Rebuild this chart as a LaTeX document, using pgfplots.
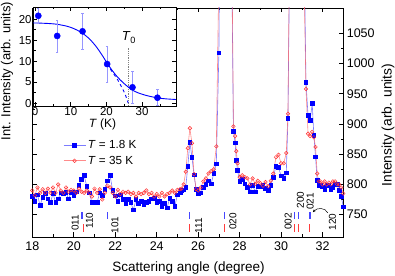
\documentclass[border=0pt]{standalone}
\usepackage{pgfplots}
\pgfplotsset{compat=1.18}
\usepackage{pgfplotstable}
\usepackage{fontspec}
\setmainfont{Liberation Sans}
\usetikzlibrary{arrows.meta}
\definecolor{bmark}{RGB}{0,0,255}
\definecolor{bline}{RGB}{80,80,255}
\definecolor{rmark}{RGB}{255,50,50}
\definecolor{rline}{RGB}{255,100,100}
\definecolor{ebar}{RGB}{150,150,255}
\definecolor{btick}{RGB}{70,70,255}
\definecolor{rtick}{RGB}{255,60,60}
\pgfplotstableread{
x B R
18.000 780 790
18.125 772 782
18.250 783 795
18.375 765 786
18.500 779 792
18.625 785 786
18.750 776 793
18.875 770 786
19.000 785 795
19.125 770 786
19.250 776 800
19.375 786 790
19.500 785 786
19.625 787 795
19.750 776 788
19.875 787 791
20.000 782 790
20.125 788 786
20.250 799 793
20.375 808 788
20.500 815 786
20.625 797 790
20.750 786 786
20.875 770 780
21.000 770 793
21.125 770 786
21.250 786 792
21.375 782 775
21.500 792 786
21.625 806 798
21.750 815 795
21.875 790 786
22.000 781 780
22.125 772 791
22.250 783 784
22.375 775 788
22.500 769 786
22.625 775 788
22.750 770 784
22.875 758 786
23.000 775 780
23.125 769 786
23.250 772 784
23.375 766 786
23.500 770 790
23.625 772 784
23.750 776 786
23.875 777 780
24.000 770 784
24.125 772 780
24.250 764 786
24.375 769 780
24.500 761 784
24.625 777 786
24.750 772 790
24.875 764 786
25.000 783 791
25.125 786 792
25.200 790 793
25.300 791 800
25.400 795 821
25.500 830 860
25.600 870 893
25.700 845 868
25.800 816 817
25.900 792 792
26.000 785 790
26.125 786 795
26.250 795 805
26.375 800 810
26.500 806 818
26.625 801 822
26.750 818 825
26.875 834 863
27.000 1018 1150
27.125 1600 1700
27.250 2200 2300
27.375 2000 2100
27.500 1500 1500
27.625 1150 1200
27.700 888 896
27.780 869 880
27.840 840 855
27.900 823 835
28.000 805 812
28.125 808 815
28.250 801 812
28.375 795 810
28.500 788 800
28.625 799 810
28.750 788 801
28.875 797 806
29.000 796 802
29.125 799 798
29.250 794 804
29.375 790 797
29.500 799 806
29.625 812 818
29.750 830 845
29.875 828 849
30.000 814 835
30.125 810 835
30.250 819 852
30.330 909 917
30.450 1300 1350
30.600 2000 2000
30.750 2500 2500
30.900 2200 2200
31.050 1600 1550
31.125 1150 1100
31.200 969 958
31.300 914 884
31.400 906 880
31.500 934 887
31.580 881 878
31.660 846 862
31.740 807 818
31.820 799 805
31.900 799 805
32.000 796 800
32.100 791 805
32.200 799 800
32.300 799 803
32.400 791 800
32.500 795 805
32.600 800 805
32.700 800 800
32.800 790 800
32.900 780 795
33.000 763 785
}\maindata
\begin{document}
\begin{tikzpicture}
\path[use as bounding box] (0pt,0pt) rectangle (395pt,275pt);
\begin{axis}[
  at={(32.3pt,38pt)}, anchor=south west,
  scale only axis, width=311pt, height=229pt,
  xmin=18, xmax=33, ymin=713, ymax=1092,
  xtick={18,20,...,32}, minor x tick num=1,
  ytick={750,800,...,1050}, minor y tick num=1,
  ytick pos=both, yticklabel pos=right,
  /pgf/number format/assume math mode=true,
  /pgf/number format/1000 sep={},
  tick label style={font=\fontsize{12.5}{13}\selectfont},
  xticklabel style={yshift=-1pt},
  axis line style={line width=0.8pt},
  every tick/.style={line width=0.6pt, black},
  major tick length=4.5pt, minor tick length=2.5pt,
  legend style={at={(axis description cs:0.099,0.432)}, anchor=north west, draw=none, fill=none,
    font=\fontsize{11.7}{13}\selectfont, row sep=2pt, inner sep=0pt, cells={anchor=west}},
  legend image code/.code={\draw[mark repeat=2,mark phase=2,#1] plot coordinates {(0pt,0pt) (11pt,0pt) (22pt,0pt)};},
]
\addplot[bline, line width=0.6pt, opacity=0.75, mark=square*, mark size=1.8pt, mark options={bmark, opacity=1, solid}] table[x=x,y=B]{\maindata};
\addlegendentry{\textit{T} = 1.8 K}
\addplot[rline, line width=0.6pt, opacity=0.75, mark=o, mark size=1.8pt, mark options={rmark, opacity=1, line width=0.5pt}] table[x=x,y=R]{\maindata};
\addlegendentry{\textit{T} = 35 K}
% reflection positions
\addplot[btick, line width=0.8pt, forget plot, unbounded coords=jump] coordinates {
(20.36,743) (20.36,755) (20.36,nan)
(20.44,743) (20.44,755) (20.44,nan)
(21.60,743) (21.60,755) (21.60,nan)
(25.60,743) (25.60,755) (25.60,nan)
(27.27,743) (27.27,755) (27.27,nan)
(30.64,743) (30.64,755) (30.64,nan)
(30.83,743) (30.83,755) (30.83,nan)
(31.35,743) (31.35,755) (31.35,nan)
(31.39,743) (31.39,755)
};
\addplot[rtick, line width=0.8pt, forget plot, unbounded coords=jump] coordinates {
(20.48,722) (20.48,735) (20.48,nan)
(25.60,722) (25.60,735) (25.60,nan)
(27.27,722) (27.27,735) (27.27,nan)
(30.64,722) (30.64,735) (30.64,nan)
(30.83,722) (30.83,735) (30.83,nan)
(31.37,722) (31.37,735)
};
\begin{scope}[every node/.style={rotate=90, font=\fontsize{10}{10}\selectfont, inner sep=0pt}]
\node at (axis cs:20.07,736.7) {011};
\node at (axis cs:20.76,740) {110};
\node at (axis cs:21.98,732.5) {101};
\node at (axis cs:26.02,732) {111};
\node at (axis cs:27.68,739) {020};
\node at (axis cs:30.34,739) {002};
\node at (axis cs:30.93,774.6) {200};
\node at (axis cs:31.40,772) {021};
\node at (axis cs:32.47,738) {120};
\end{scope}
\draw[-{Stealth[length=3pt,width=2.5pt]}, line width=0.5pt] (axis cs:32.25,753) .. controls (axis cs:32.12,762) and (axis cs:31.75,762) .. (axis cs:31.53,754);
\end{axis}
% inset
\begin{axis}[
  at={(33.3pt,169pt)}, anchor=south west,
  scale only axis, width=142.7pt, height=99pt,
  xmin=-0.5, xmax=39.5, ymin=-0.7, ymax=22.9,
  xtick={0,10,20,30}, minor xtick={5,15,25,35},
  ytick={0,5,10,15,20}, minor y tick num=1,
  axis background/.style={fill=white},
  /pgf/number format/assume math mode=true,
  tick label style={font=\fontsize{11.5}{12}\selectfont},
  xticklabel style={inner sep=0.8pt},
  yticklabel style={inner sep=1.5pt},
  axis line style={line width=0.8pt},
  every tick/.style={line width=0.6pt, black},
  major tick length=4pt, minor tick length=2.2pt,
]
\addplot[gray, densely dotted, line width=0.8pt] coordinates {(26.1,-0.7) (26.1,13.2)};
\addplot[bmark, line width=0.9pt, smooth] coordinates {
(-0.5,19.1) (3,19.0) (6,18.8) (9,18.3) (11,17.7) (13,16.8) (15,15.5) (17,13.6) (18.5,11.8) (20,9.8) (21.5,7.9) (23,6.3) (24.5,5.0) (26,3.9) (27.5,3.0) (29,2.4) (31,1.85) (33,1.45) (35,1.15) (37,0.98) (39.5,0.85)};
\addplot[bmark, line width=0.9pt, dashed, smooth] coordinates {
(20.2,9.3) (21.5,7.6) (22.9,5.9) (24.2,3.9) (25.2,2.2) (26.1,0)};
\addplot[only marks, mark=*, mark size=3.1pt, bmark,
  error bars/.cd, y dir=both, y explicit,
  error bar style={color=ebar, line width=0.6pt},
  error mark options={rotate=90, mark size=1.2pt, color=ebar, line width=0.6pt}] coordinates {
(0.9,20.8) +- (0,1.8)
(6.2,16.0) +- (0,3.8)
(13.3,17.1) +- (0,4.3)
(20.2,9.3) +- (0,4.25)
(27.3,3.75) +- (0,3.9)
(34.3,1.27) +- (0,1.9)
};
\node[font=\fontsize{13}{13}\selectfont] at (axis cs:26.3,15.6) {\textit{T}\textsubscript{0}};
\end{axis}
\node[rotate=90, anchor=base, font=\fontsize{13}{14}\selectfont] at (10.3pt,204pt) {Int. Intensity (arb. units)};
\node[anchor=base, font=\fontsize{12}{13}\selectfont] at (102.5pt,147.5pt) {\textit{T} (K)};
\node[rotate=90, anchor=base, font=\fontsize{13.8}{14}\selectfont] at (391.5pt,150pt) {Intensity (arb. units)};
\node[anchor=base, font=\fontsize{13.5}{14}\selectfont] at (188.5pt,4pt) {Scattering angle (degree)};
\end{tikzpicture}
\end{document}
